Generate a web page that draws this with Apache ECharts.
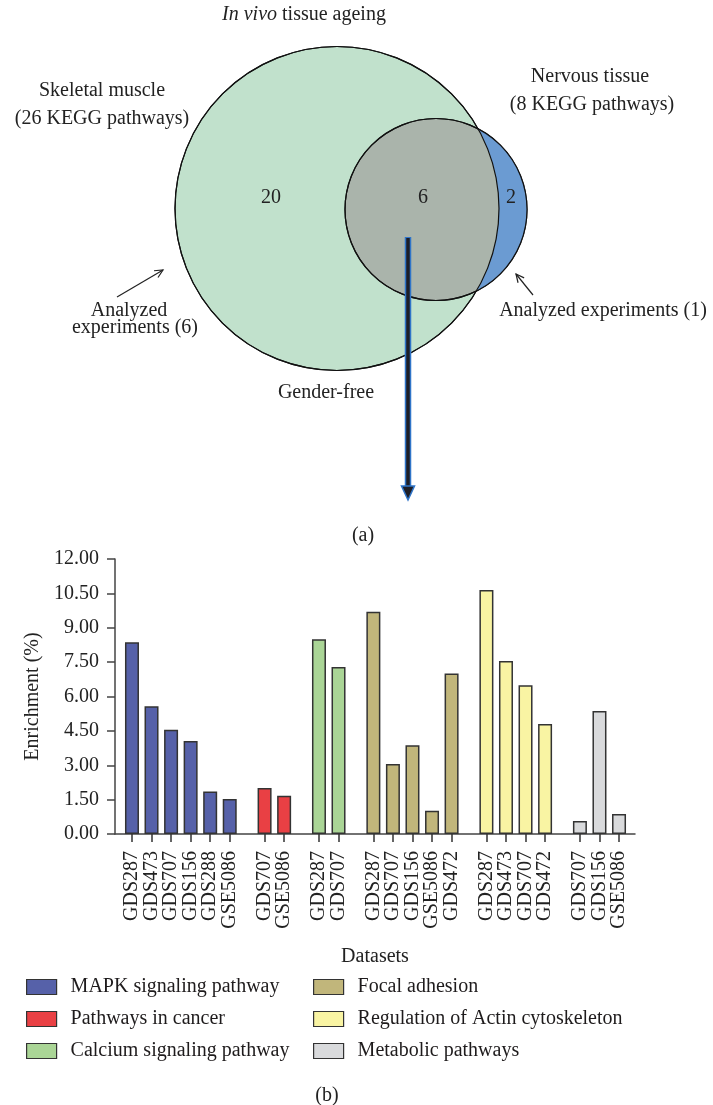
<!DOCTYPE html>
<html><head><meta charset="utf-8">
<script src="https://cdn.jsdelivr.net/npm/echarts@6/dist/echarts.min.js"></script>
<style>html,body{margin:0;padding:0;background:#fff}#c{width:713px;height:1105px}</style>
</head><body><div id="c"></div>
<script>
// ---------- data ----------
const seriesNames = ['MAPK signaling pathway','Pathways in cancer','Calcium signaling pathway','Focal adhesion','Regulation of Actin cytoskeleton','Metabolic pathways'];
const mapkDatasets = ['GDS287','GDS473','GDS707','GDS156','GDS288','GSE5086'];
const mapkValues = [8.37, 5.57, 4.55, 4.06, 1.85, 1.53];
const cancerDatasets = ['GDS707','GSE5086'];
const cancerValues = [2.01, 1.67];
const calciumDatasets = ['GDS287','GDS707'];
const calciumValues = [8.50, 7.29];
const focalDatasets = ['GDS287','GDS707','GDS156','GSE5086','GDS472'];
const focalValues = [9.70, 3.05, 3.87, 1.02, 7.00];
const actinDatasets = ['GDS287','GDS473','GDS707','GDS472'];
const actinValues = [10.65, 7.55, 6.49, 4.80];
const metabolicDatasets = ['GDS707','GDS156','GSE5086'];
const metabolicValues = [0.57, 5.37, 0.87];
const yMin = 0, yMax = 12, yStep = 1.5;
const vennCounts = [20, 6, 2]; // skeletal only, shared, nervous only

// ---------- styles / layout ----------
const FONT = 'Liberation Serif';
const TXT = '#222';
const colors = ['#5661a9','#e94044','#aad596','#c1b67b','#f9f4a3','#d9dadc'];
const groupDatasets = [mapkDatasets, cancerDatasets, calciumDatasets, focalDatasets, actinDatasets, metabolicDatasets];
const groupValues = [mapkValues, cancerValues, calciumValues, focalValues, actinValues, metabolicValues];
const plotTop = 559, plotBottom = 1105 - 834, plotLeft = 115, plotWidth = 520;
const slot = 19.55, gap = 15.3, firstLeft = 122.2;

const grids = [{left: plotLeft, width: plotWidth, top: plotTop, bottom: plotBottom}];
const xAxes = [{
  gridIndex: 0, type: 'value', min: 0, max: 1,
  axisLine: {show: true, onZero: false, lineStyle: {color: '#444', width: 1.5}},
  axisTick: {show: false}, axisLabel: {show: false}, splitLine: {show: false},
  name: 'Datasets', nameLocation: 'middle', nameGap: 113,
  nameTextStyle: {fontFamily: FONT, fontSize: 20, color: TXT}
}];
const yAxes = [{
  gridIndex: 0, type: 'value', min: yMin, max: yMax, interval: yStep,
  axisLine: {show: true, onZero: false, lineStyle: {color: '#444', width: 1.5}},
  axisTick: {show: true, length: 8, lineStyle: {color: '#444', width: 1.5}},
  axisLabel: {margin: 16, formatter: v => v.toFixed(2), fontFamily: FONT, fontSize: 20, color: TXT},
  splitLine: {show: false},
  name: 'Enrichment (%)', nameLocation: 'middle', nameGap: 72,
  nameTextStyle: {fontFamily: FONT, fontSize: 20, color: TXT}
}];
const series = [];
let left = firstLeft;
groupDatasets.forEach((cats, i) => {
  const w = cats.length * slot;
  grids.push({left: left, width: w, top: plotTop, bottom: plotBottom});
  xAxes.push({
    gridIndex: i + 1, type: 'category', data: cats,
    axisLine: {show: false},
    axisTick: {show: true, alignWithLabel: true, length: 8, lineStyle: {color: '#333', width: 1.5}},
    axisLabel: {rotate: 90, margin: 17, interval: 0, fontFamily: FONT, fontSize: 20, color: TXT}
  });
  yAxes.push({gridIndex: i + 1, type: 'value', min: yMin, max: yMax, show: false});
  series.push({
    type: 'bar', name: seriesNames[i], xAxisIndex: i + 1, yAxisIndex: i + 1,
    data: groupValues[i], barWidth: 14,
    itemStyle: {color: colors[i], borderColor: '#333', borderWidth: 1.5}
  });
  left += w + gap;
});

const legendBase = {
  orient: 'vertical', top: 972, itemWidth: 30, itemHeight: 15, itemGap: 12, icon: 'rect',
  itemStyle: {borderColor: '#333', borderWidth: 1.2},
  textStyle: {fontFamily: FONT, fontSize: 20, color: '#1e1b1c', lineHeight: 20, padding: [0, 0, 0, 9]}
};

// ---------- Venn (panel a) ----------
const big = {cx: 337, cy: 208.5, r: 162};
const small = {cx: 436, cy: 209.5, r: 91};
function crescent() {
  const dx = small.cx - big.cx, dy = small.cy - big.cy;
  const d = Math.hypot(dx, dy);
  const a = (big.r * big.r - small.r * small.r + d * d) / (2 * d);
  const h = Math.sqrt(big.r * big.r - a * a);
  const ux = dx / d, uy = dy / d;
  const mx = big.cx + a * ux, my = big.cy + a * uy;
  const pTop = [mx + h * uy, my - h * ux];
  const pBot = [mx - h * uy, my + h * ux];
  const t2a = Math.atan2(pTop[1] - small.cy, pTop[0] - small.cx);
  const t2b = Math.atan2(pBot[1] - small.cy, pBot[0] - small.cx);
  const t1a = Math.atan2(pBot[1] - big.cy, pBot[0] - big.cx);
  const t1b = Math.atan2(pTop[1] - big.cy, pTop[0] - big.cx);
  const pts = [];
  const n = 80;
  for (let k = 0; k <= n; k++) {
    const t = t2a + (t2b - t2a) * k / n;
    pts.push([small.cx + small.r * Math.cos(t), small.cy + small.r * Math.sin(t)]);
  }
  for (let k = 0; k <= n; k++) {
    const t = t1a + (t1b - t1a) * k / n;
    pts.push([big.cx + big.r * Math.cos(t), big.cy + big.r * Math.sin(t)]);
  }
  return pts;
}
function txt(x, y, s, extra) {
  return Object.assign({type: 'text', z: 10, style: {x: x, y: y, text: s, fill: TXT, font: '20px "' + FONT + '"', textAlign: 'center', textVerticalAlign: 'middle'}}, extra || {});
}
function arrow(x1, y1, x2, y2) {
  const ang = Math.atan2(y2 - y1, x2 - x1), L = 9, sp = 0.45;
  return [
    {type: 'line', z: 10, shape: {x1, y1, x2, y2}, style: {stroke: '#222', lineWidth: 1.2}},
    {type: 'polyline', z: 10, shape: {points: [
      [x2 - L * Math.cos(ang - sp), y2 - L * Math.sin(ang - sp)], [x2, y2],
      [x2 - L * Math.cos(ang + sp), y2 - L * Math.sin(ang + sp)]]}, style: {stroke: '#222', lineWidth: 1.2, fill: null}}
  ];
}
const graphic = [
  {type: 'circle', z: 1, shape: big, style: {fill: '#c1e1cc', stroke: '#111', lineWidth: 1.2}},
  {type: 'circle', z: 2, shape: small, style: {fill: '#aab4ab', stroke: '#111', lineWidth: 1.2}},
  {type: 'polygon', z: 3, shape: {points: crescent()}, style: {fill: '#6b9bd2', stroke: null}},
  {type: 'circle', z: 4, shape: small, style: {fill: null, stroke: '#111', lineWidth: 1.2}},
  {type: 'circle', z: 4, shape: big, style: {fill: null, stroke: '#111', lineWidth: 1.2}},
  {type: 'text', z: 10, style: {x: 304, y: 15, text: '{i|In vivo} tissue ageing', fill: TXT, font: '20px "' + FONT + '"', textAlign: 'center', textVerticalAlign: 'middle',
    rich: {i: {fontStyle: 'italic', fontFamily: FONT, fontSize: 20, fill: TXT}}}},
  txt(102, 91, 'Skeletal muscle'),
  txt(102, 119, '(26 KEGG pathways)'),
  txt(590, 77, 'Nervous tissue'),
  txt(592, 105, '(8 KEGG pathways)'),
  txt(271, 198, String(vennCounts[0])),
  txt(423, 198, String(vennCounts[1])),
  txt(511, 198, String(vennCounts[2])),
  txt(129, 311, 'Analyzed'),
  txt(135, 328, 'experiments (6)'),
  txt(603, 311, 'Analyzed experiments (1)'),
  txt(326, 393, 'Gender-free'),
  txt(363, 536, '(a)'),
  txt(327, 1096, '(b)'),
  ...arrow(117, 297, 163, 270),
  ...arrow(533, 295, 516, 274),
  {type: 'line', z: 12, shape: {x1: 408, y1: 237, x2: 408, y2: 489}, style: {stroke: '#2f74c8', lineWidth: 6.5}},
  {type: 'line', z: 13, shape: {x1: 408, y1: 238, x2: 408, y2: 490}, style: {stroke: '#1e1e26', lineWidth: 3.5}},
  {type: 'polygon', z: 13, shape: {points: [[401.5, 486], [414.5, 486], [408, 500]]}, style: {fill: '#1e1e26', stroke: '#2f74c8', lineWidth: 1.5}}
];

const chart = echarts.init(document.getElementById('c'), null, {renderer: 'canvas'});
chart.setOption({
  animation: false,
  backgroundColor: '#fff',
  grid: grids, xAxis: xAxes, yAxis: yAxes, series: series,
  legend: [
    Object.assign({}, legendBase, {left: 21, data: seriesNames.slice(0, 3)}),
    Object.assign({}, legendBase, {left: 308, data: seriesNames.slice(3)})
  ],
  graphic: graphic
});
</script></body></html>
